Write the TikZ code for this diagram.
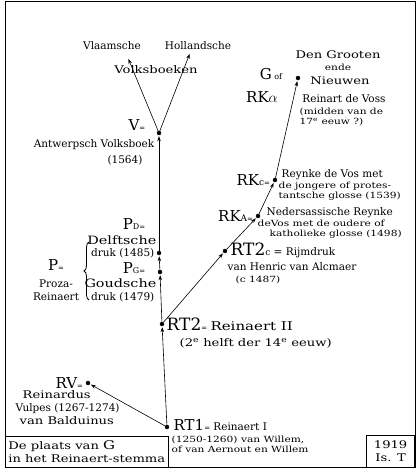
\documentclass[tikz,border=0pt]{standalone}
\usepackage{fontspec}
\setmainfont{DejaVu Serif}
\newfontfamily\widefont{DejaVu Serif}[FakeStretch=1.25]
\usetikzlibrary{arrows.meta,positioning,decorations.pathreplacing}
\tikzset{
    stemdot/.style={circle, draw, fill=black, inner sep=0pt, minimum size=4pt},
    stemtext/.style={font=\fontsize{10.5}{13}\selectfont, inner sep=0.5pt, align=left},
    stemwide/.style={font=\widefont\fontsize{10.5}{13}\selectfont, inner sep=0.5pt, align=left},
    stemsmall/.style={font=\widefont\fontsize{8.5}{10}\selectfont, inner sep=0.5pt, align=left},
    stemsign/.style={font=\fontsize{15}{16}\selectfont, inner sep=0.5pt},
    stemarrow/.style={-{Stealth[length=5pt,width=3.5pt]}, semithick, shorten >=1pt},
    stembox/.style={draw, thick, inner sep=3pt, align=left, font=\widefont\fontsize{10.5}{13}\selectfont}
}
\newcommand{\eq}{{\scriptsize =}}

\begin{document}
\begin{tikzpicture}[x=1pt, y=-1pt]
    \useasboundingbox (0,0) rectangle (420,471);
    \draw[thick] (5,1.5) rectangle (415,467);

    % handschriften en drukken
    \node[stemdot] (rt1) at (167,427) {};
    \node[stemdot] (rv) at (88,383) {};
    \node[stemdot] (rt2) at (162,324) {};
    \node[stemdot] (pg) at (160,272) {};
    \node[stemdot] (pd) at (159,253) {};
    \node[stemdot] (v) at (159,133) {};
    \node[stemdot] (rt2c) at (225,251) {};
    \node[stemdot] (rka) at (258,216) {};
    \node[stemdot] (rkc) at (275,180) {};
    \node[stemdot] (g) at (298,78) {};
    \coordinate (vl) at (128,58);
    \coordinate (ho) at (190,53);

    % volksboeken
    \node[stemtext] (vlaam) at (112,46) {Vlaamsche};
    \node[stemtext] (holl) at (198,46) {Hollandsche};
    \node[stemwide] (volks) at (156,70) {Volksboeken};
    \node[stemsign] (vlab) at (137,125) {V\eq};
    \node[stemtext, anchor=east] (antw) at (155,145) {Antwerpsch Volksboek};
    \node[stemtext] (antwj) at (125,160) {(1564)};

    % G
    \node[stemsign] (glab) at (271,74) {G{\footnotesize\ of}};
    \node[stemsign] (rkalab) at (262,97) {RK$\alpha$};
    \node[stemwide] (groot) at (338,55) {Den Grooten};
    \node[stemsmall] (ende) at (338,67) {ende};
    \node[stemwide] (nieuw) at (340,81) {Nieuwen};
    \node[stemtext] (voss) at (344,99) {Reinart de Voss};
    \node[stemsmall, anchor=north west] (voss2) at (299,107) {(midden van de\\17\textsuperscript{e} eeuw ?)};

    % RKc en RKA
    \node[stemsign, left=2pt of rkc, anchor=east] (rkclab) {RK{\small c}\eq};
    \node[stemtext, anchor=west] (rkct) at (281,175) {Reynke de Vos met};
    \node[stemsmall, below=0pt of rkct.south west, anchor=north west, xshift=-3pt] (rkcs) {de jongere of protes-\\tantsche glosse (1539)};
    \node[stemsign, left=2pt of rka, anchor=east] (rkalab2) {RK{\small A}\eq};
    \node[stemtext, anchor=west] (rkat) at (266,213) {Nedersassische Reynke};
    \node[stemsmall, anchor=north west] (rkas) at (257,219) {deVos met de oudere of\\\hspace{12pt}katholieke glosse (1498)};

    % RT2c
    \node[stemtext, anchor=west] (rt2ct) at (230,250) {{\fontsize{17}{18}\selectfont RT2}{\small c} = Rijmdruk};
    \node[stemtext, anchor=west] (rt2cs) at (227,267) {van Henric van Alcmaer};
    \node[stemsmall, anchor=west] (rt2cj) at (235,280) {(c 1487)};

    % RT2
    \node[stemtext, anchor=west] (rt2t) at (166,324) {{\fontsize{17}{18}\selectfont RT2}\eq\ {\widefont\fontsize{12}{13}\selectfont Reinaert II}};
    \node[stemwide, anchor=west] (rt2s) at (179,343) {(2\textsuperscript{e} helft der 14\textsuperscript{e} eeuw)};

    % P
    \node[stemsign] (pdlab) at (134,224) {P{\footnotesize D}\eq};
    \node[stemwide, anchor=east] (pdt) at (157,240) {\fontsize{11.5}{13}\selectfont Delftsche};
    \node[stemtext, anchor=east] (pdj) at (155,253) {druk (1485)};
    \node[stemsign] (pglab) at (134,268) {P{\footnotesize G}\eq};
    \node[stemwide, anchor=east] (pgt) at (157,283) {\fontsize{11.5}{13}\selectfont Goudsche};
    \node[stemtext, anchor=east] (pgj) at (155,297) {druk (1479)};
    \draw[decorate, decoration={brace, amplitude=5pt}, thick] (89,300) -- (89,242);
    \node[stemsign] (plab) at (56,265) {P\eq};
    \node[stemtext, align=center] (proza) at (56,290) {Proza-\\Reinaert};

    % RV
    \node[stemsign, left=2pt of rv, anchor=east] (rvlab) {RV\eq};
    \node[stemtext, anchor=north west] (rvt) at (15,390) {\hspace{7pt}{\widefont Reinardus}\\Vulpes (1267-1274)\\\hspace{4pt}{\widefont van Balduinus}};

    % RT1
    \node[stemtext, anchor=west] (rt1t) at (173,425) {{\fontsize{15}{16}\selectfont RT1}\eq\ Reinaert I};
    \node[stemsmall, anchor=north west] (rt1s) at (171,435) {(1250-1260) van Willem,\\of van Aernout en Willem};

    % kaders
    \node[stembox, anchor=north west, minimum width=143pt, minimum height=31pt] (titel) at (5,436) {De plaats van {\large G}\\in het Reinaert-stemma};
    \node[stembox, anchor=north east, minimum width=48pt, minimum height=32pt, align=center] (jaar) at (415,435) {1919\\Is. T};

    \foreach \a/\b in {rt1/rv,rt1/rt2,rt2/pg,pg/pd,pd/v,v/vl,v/ho,rt2/rt2c,rt2c/rka,rka/rkc,rkc/g}
        \draw[stemarrow] (\a) -- (\b);
\end{tikzpicture}
\end{document}
